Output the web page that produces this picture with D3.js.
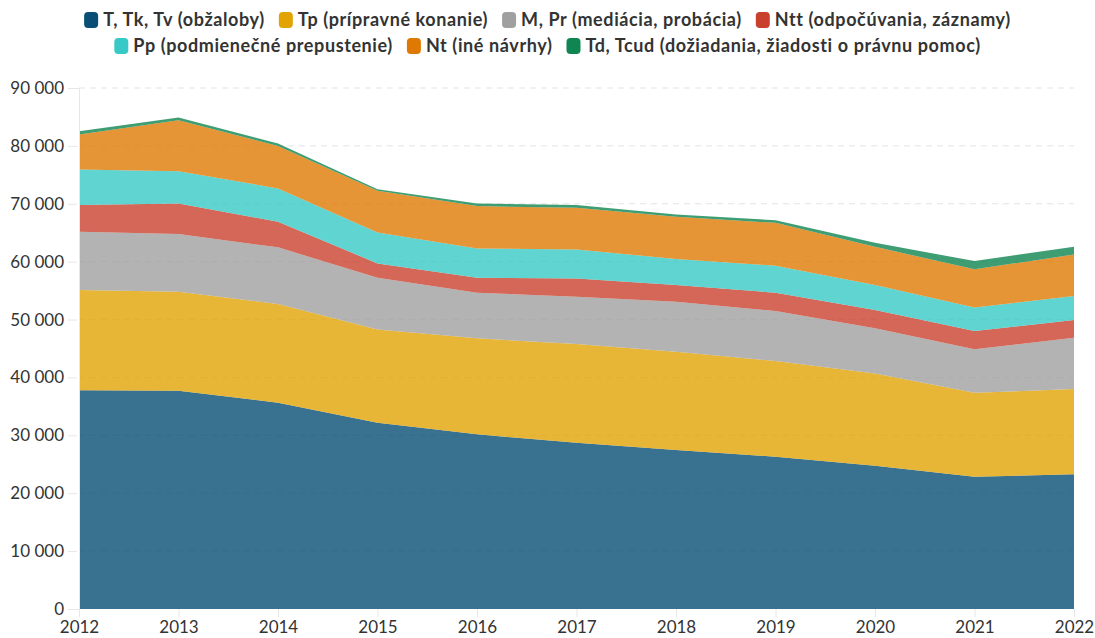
<!DOCTYPE html>
<html>
<head>
<meta charset="utf-8">
<script src="https://cdn.jsdelivr.net/npm/d3@7"></script>
<style>
  body { margin: 0; background: #fff; }
  text { font-family: "Lato", "Noto Sans", sans-serif; }
</style>
</head>
<body>
<div id="chart"></div>
<script>
var years = [2012, 2013, 2014, 2015, 2016, 2017, 2018, 2019, 2020, 2021, 2022];

var seriesNames = [
  "T, Tk, Tv (obžaloby)",
  "Tp (prípravné konanie)",
  "M, Pr (mediácia, probácia)",
  "Ntt (odpočúvania, záznamy)",
  "Pp (podmienečné prepustenie)",
  "Nt (iné návrhy)",
  "Td, Tcud (dožiadania, žiadosti o právnu pomoc)"
];

var obzaloby   = [37800, 37700, 35630, 32170, 30170, 28720, 27460, 26300, 24750, 22850, 23260];
var pripravne  = [17290, 17100, 17040, 16130, 16580, 17050, 16980, 16530, 15950, 14510, 14730];
var mediacia   = [10070,  9960,  9800,  8920,  7880,  8170,  8630,  8630,  7780,  7490,  8860];
var odpocuvania= [ 4610,  5300,  4420,  2480,  2590,  3170,  2880,  3170,  3160,  3160,  3060];
var podmienecne= [ 6170,  5580,  5760,  5350,  5070,  5010,  4500,  4660,  4310,  4090,  4150];
var ineNavrhy  = [ 6040,  8810,  7310,  7190,  7310,  7180,  7300,  7420,  6620,  6570,  7190];
var doziadania = [  570,   470,   460,   290,   460,   470,   410,   460,   690,  1430,  1320];

var yTicks = [0, 10000, 20000, 30000, 40000, 50000, 60000, 70000, 80000, 90000];

var colors = ["#084e75", "#e2a405", "#a0a0a1", "#c9412d", "#37c9c5", "#de7904", "#0f8551"];

var allSeries = [obzaloby, pripravne, mediacia, odpocuvania, podmienecne, ineNavrhy, doziadania];

var data = years.map(function(y, i) {
  var row = {year: y};
  seriesNames.forEach(function(name, j) { row[name] = allSeries[j][i]; });
  return row;
});

var W = 1095, H = 638;
var margin = {top: 88, right: 21, bottom: 29, left: 79},
    width = W - margin.left - margin.right,
    height = H - margin.top - margin.bottom;

var svg = d3.select("#chart")
  .append("svg")
    .attr("width", W)
    .attr("height", H);

var g = svg.append("g")
    .attr("transform", "translate(" + margin.left + "," + margin.top + ")");

var x = d3.scaleLinear()
  .domain([2012, 2022])
  .range([0, width]);

var y = d3.scaleLinear()
  .domain([0, 90000])
  .range([height, 0]);

var fmt = d3.formatLocale({decimal: ",", thousands: " ", grouping: [3], currency: ["", ""]}).format(",d");

// gridlines
g.append("g")
  .selectAll("line")
  .data(yTicks.slice(1))
  .enter()
  .append("line")
    .attr("x1", 0)
    .attr("x2", width)
    .attr("y1", function(d) { return y(d); })
    .attr("y2", function(d) { return y(d); })
    .attr("stroke", "#e3e3e3")
    .attr("stroke-width", 1)
    .attr("stroke-dasharray", "6,5");

// stacked areas
var stack = d3.stack().keys(seriesNames);
var layers = stack(data);

var area = d3.area()
  .x(function(d) { return x(d.data.year); })
  .y0(function(d) { return y(d[0]); })
  .y1(function(d) { return y(d[1]); });

g.selectAll(".layer")
  .data(layers)
  .enter()
  .append("path")
    .attr("class", "layer")
    .attr("d", area)
    .attr("fill", function(d, i) { return colors[i]; })
    .attr("fill-opacity", 0.8);

// y axis
var yAxis = g.append("g")
  .call(d3.axisLeft(y).tickValues(yTicks).tickFormat(fmt).tickSize(9).tickPadding(6));
yAxis.select(".domain").attr("stroke", "#e6e6e6");
yAxis.selectAll(".tick line").attr("stroke", "#e6e6e6").attr("transform", "translate(-2,0)");
yAxis.selectAll(".tick text")
  .attr("fill", "#333")
  .style("font-size", "17px")
  .attr("x", -15);

// x axis
var xAxis = g.append("g")
  .attr("transform", "translate(0," + height + ")")
  .call(d3.axisBottom(x).tickValues(years).tickFormat(d3.format("d")).tickSize(8).tickPadding(4));
xAxis.select(".domain").remove();
xAxis.selectAll(".tick line").attr("stroke", "#e6e6e6");
xAxis.selectAll(".tick text")
  .attr("fill", "#333")
  .style("font-size", "17px");

// legend
var legendRows = [[0, 1, 2, 3], [4, 5, 6]];
var rowY = [20, 46];
var legend = svg.append("g");
legendRows.forEach(function(row, r) {
  var items = legend.append("g");
  var cx = 0;
  row.forEach(function(k) {
    var item = items.append("g").attr("transform", "translate(" + cx + ",0)");
    item.append("rect")
      .attr("x", 0)
      .attr("y", rowY[r] - 8)
      .attr("width", 14)
      .attr("height", 16)
      .attr("rx", 4)
      .attr("fill", colors[k]);
    var t = item.append("text")
      .attr("x", 19)
      .attr("y", rowY[r] + 6)
      .attr("fill", "#333")
      .style("font-size", "18px")
      .style("letter-spacing", "0.6px")
      .style("font-weight", "700")
      .text(seriesNames[k]);
    cx += 19 + t.node().getComputedTextLength() + 14;
  });
  var total = cx - 14;
  items.attr("transform", "translate(" + ((W - total) / 2) + ",0)");
});
</script>
</body>
</html>
